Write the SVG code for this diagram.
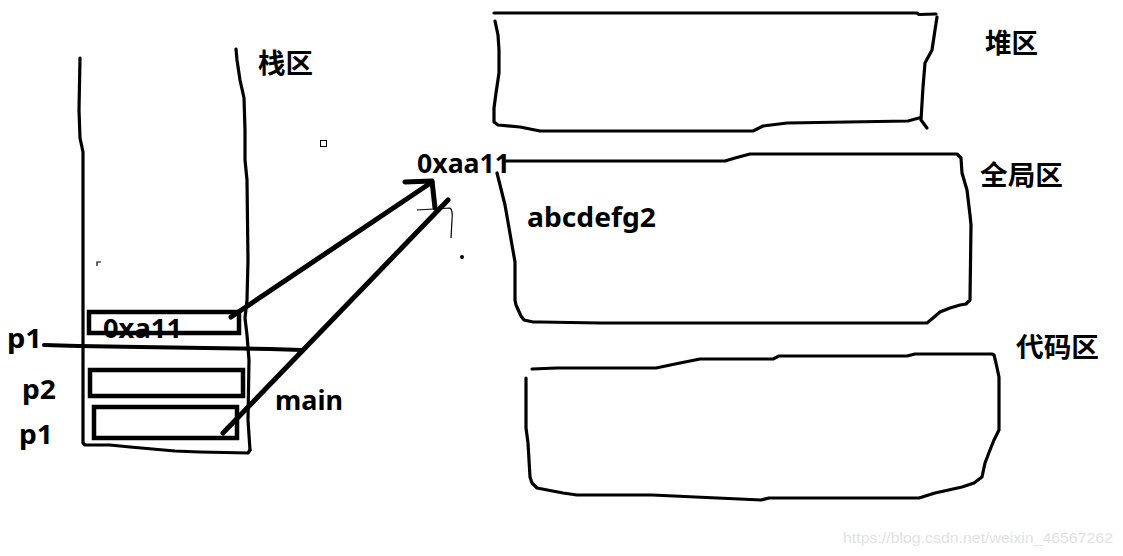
<svg xmlns="http://www.w3.org/2000/svg" width="1123" height="556" viewBox="0 0 1123 556">
<style>
.ln{fill:none;stroke:#000;stroke-width:3.2;stroke-linejoin:round;stroke-linecap:round}
.bx{fill:none;stroke:#000;stroke-width:4.5}
.ar{fill:none;stroke:#000;stroke-width:5;stroke-linecap:round;stroke-linejoin:round}
.thin{fill:none;stroke:#000;stroke-width:1.2}
.t{font-family:"Noto Sans","Open Sans","Liberation Sans",sans-serif;font-weight:bold;font-size:26px;fill:#000}
.c{font-family:"Noto Sans CJK SC","Noto Sans",sans-serif;font-weight:bold;font-size:27px;fill:#000}
.wm{font-family:"Liberation Sans",Arial,sans-serif;font-size:15px;fill:#e2e2e2}
</style>
<rect width="1123" height="556" fill="#fff"/>
<g id="stack">
<path class="ln" d="M80,58 L79,110 L80,138 L83,152 L83,443 L85,445 L110,445 L130,447 L175,451 L200,452 L248,453 L250,450"/>
<path class="ln" d="M236,49 L237,60 L240,80 L244,98 L245,130 L245,160 L247,180 L248,260 L247,300 L245,318 L247,335 L249,360 L248,420 L250,450"/>
<rect class="bx" x="89" y="312" width="150" height="21"/>
<rect class="bx" x="90" y="370" width="153" height="26"/>
<rect class="bx" x="94" y="407" width="143" height="31"/>
<text class="t" x="103" y="338" textLength="79" lengthAdjust="spacingAndGlyphs">0xa11</text>
<text class="t" x="7" y="348" textLength="35" lengthAdjust="spacingAndGlyphs">p1</text>
<text class="t" x="22" y="399" textLength="34" lengthAdjust="spacingAndGlyphs">p2</text>
<text class="t" x="19" y="444" textLength="34" lengthAdjust="spacingAndGlyphs">p1</text>
<text class="t" x="275" y="410" textLength="68" lengthAdjust="spacingAndGlyphs">main</text>
<text class="c" x="258" y="73" textLength="55" lengthAdjust="spacingAndGlyphs">栈区</text>
<path d="M44,345 L78,346 L140,347 L205,348 L270,349 L302,350" fill="none" stroke="#000" stroke-width="4" stroke-linecap="round"/>
<rect x="320.5" y="140.5" width="6" height="6" fill="none" stroke="#000" stroke-width="1"/>
<path class="thin" d="M97,266 L97,262 L101,262"/>
</g>
<g id="heap">
<path class="ln" d="M494,13 L917,13 L919,14.5 L936,14"/>
<path class="ln" d="M937,17 L935,30 L932,50 L925,63 L923,87 L921,120 L927,128"/>
<path class="ln" d="M919,118 L908,121 L787,123 L763,126 L753,131 L540,131 L520,127 L498,125 L494,122 L494,108 L496,93 L499,73 L499,50 L498,35 L495,21"/>
<text class="c" x="985" y="53" textLength="53" lengthAdjust="spacingAndGlyphs">堆区</text>
</g>
<g id="global">
<path class="ln" d="M505,161 L725,161 L735,158 L750,154 L957,154 L961,158 L962,173 L967,190 L970,215 L971,225 L970,300 L966,304 L960,305 L950,308 L940,312 L933,318 L927,323 L600,323 L540,322 L533,322 L524,320 L521,316 L516,305 L515,300 L515,262 L512,245 L505,205 L500,185 L497,173"/>
<text class="t" x="417" y="173" textLength="93" lengthAdjust="spacingAndGlyphs">0xaa11</text>
<text class="t" x="527" y="227" textLength="129" lengthAdjust="spacingAndGlyphs">abcdefg2</text>
<text class="c" x="980" y="185" textLength="83" lengthAdjust="spacingAndGlyphs">全局区</text>
</g>
<g id="code">
<path class="ln" d="M532,369 L557,368 L656,368 L680,363 L700,359 L773,359 L779,356 L907,356 L915,354 L992,354 L994,355 L996,363 L999,377 L999,430 L994,440 L990,450 L985,463 L982,477 L974,483 L962,487 L935,493 L919,498 L769,498 L761,500 L652,495 L577,495 L563,493 L537,488 L532,483 L530,477 L528,443 L526,428 L526,378"/>
<text class="c" x="1016" y="357" textLength="83" lengthAdjust="spacingAndGlyphs">代码区</text>
</g>
<g id="connectors">
<path class="ar" d="M231,317 L432,182"/>
<path class="ar" d="M405,182 L432,181 L435,208" stroke-width="5.5"/>
<path class="ar" d="M223,433 L448,200" stroke-width="4.5"/>
<path class="thin" d="M417,210 L450,208 Q453,210 452,220 L451,238"/>
<circle cx="462" cy="257" r="2" fill="#000"/>
</g>
<text class="wm" x="843" y="543" textLength="270" lengthAdjust="spacingAndGlyphs">https://blog.csdn.net/weixin_46567262</text>
</svg>
